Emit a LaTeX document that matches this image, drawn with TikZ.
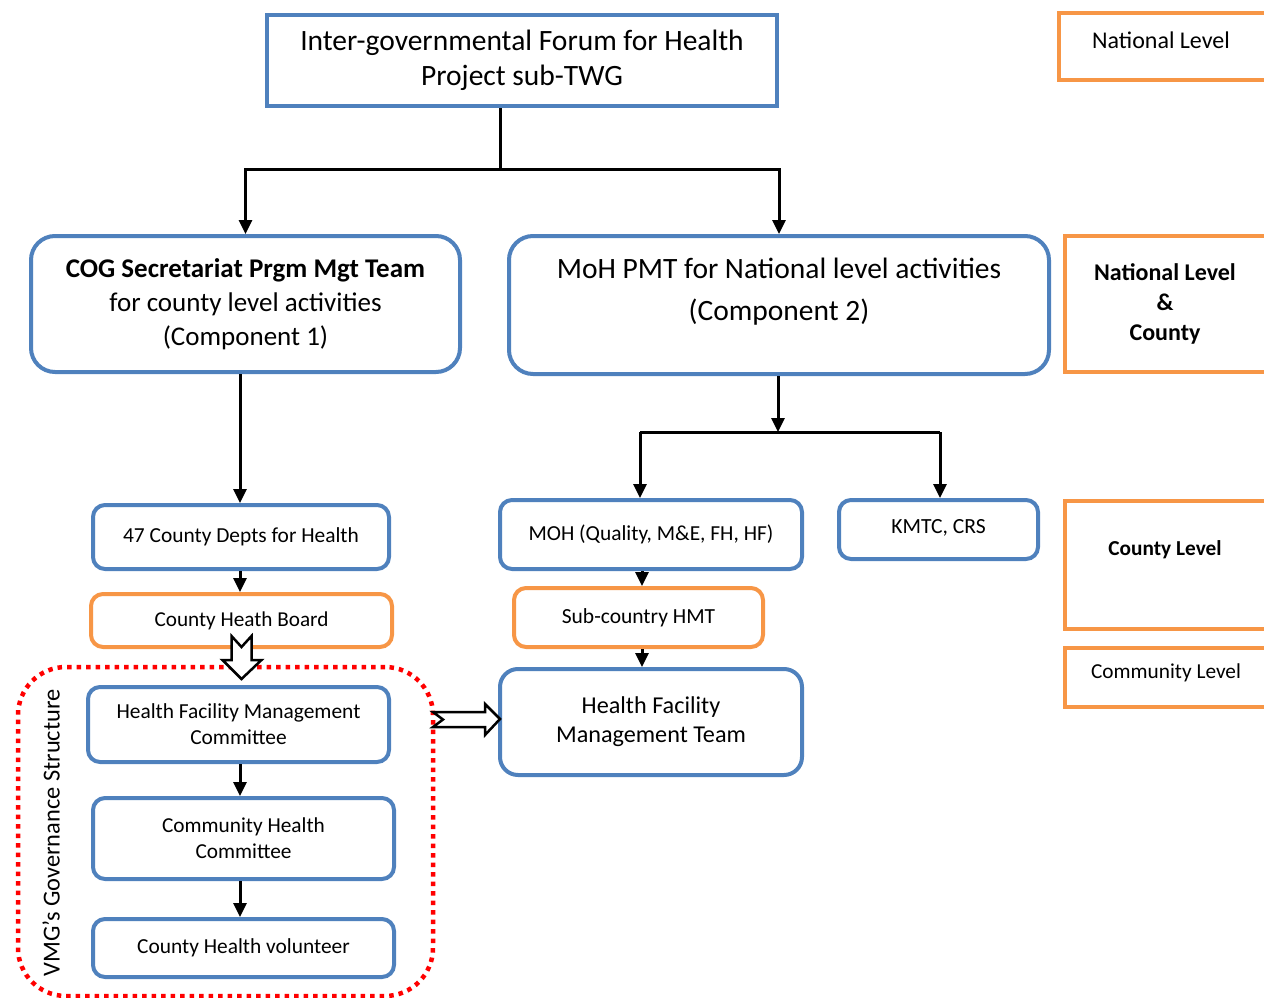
\documentclass[tikz,border=0pt]{standalone}
\usepackage{fontspec}
\setmainfont{Carlito}
\usetikzlibrary{arrows.meta,calc}
\definecolor{bblue}{HTML}{4F81BD}
\definecolor{borange}{HTML}{F79646}
\begin{document}
\begin{tikzpicture}[x=1pt,y=-1pt,
  rbox/.style={draw=bblue, line width=4pt, rounded corners=18pt, align=center, inner sep=0pt, fill=white},
  obox/.style={draw=borange, line width=4pt, rounded corners=12pt, align=center, inner sep=0pt, fill=white},
  sbox/.style={draw=bblue, line width=4pt, align=center, inner sep=0pt},
  lvl/.style={draw=borange, line width=4pt, align=center, inner sep=0pt},
  txt/.style={align=center, inner sep=0pt},
  fs/.style 2 args={font=\fontsize{#1}{#2}\selectfont},
  fsb/.style 2 args={font=\fontsize{#1}{#2}\selectfont\bfseries},
  conn/.style={line width=3pt, black},
  arr/.style={conn, -{Triangle[length=14pt,width=13pt]}},
  hollow/.style={draw=black, line width=2.5pt, fill=white, line join=miter},
]
\useasboundingbox (0,0) rectangle (1264,998);
\clip (0,0) rectangle (1264,998);

% top
\node[sbox, fs={29.5}{35}, minimum width=510pt, minimum height=91pt] (top) at (522,60.5)
  {Inter-governmental Forum for Health\\Project sub-TWG};

% level boxes
\node[lvl, minimum width=214pt, minimum height=67pt] (lvnat) at (1166,46.5) {};
\node[txt, fs={24}{28}] (lvnatt) at (1161,40) {National Level};
\node[lvl, fsb={24}{30}, minimum width=214pt, minimum height=136pt] (lvnc) at (1172,304) {};
\node[txt, fsb={24}{30}] (lvnct) at (1165,304) {National Level\\\&\\County};
\node[lvl, minimum width=214pt, minimum height=128pt] (lvc) at (1172,565) {};
\node[txt, fsb={21.3}{24}] (lvct) at (1165,550) {County Level};
\node[lvl, minimum width=214pt, minimum height=59pt] (lvcom) at (1172,677.5) {};
\node[txt, fs={21.3}{24}] (lvcomt) at (1166,673) {Community Level};

% second row
\node[rbox, rounded corners=24pt, fs={27}{34}, minimum width=429pt, minimum height=136pt] (cog) at (245.5,304)
  {\textbf{COG Secretariat Prgm Mgt Team}\\for county level activities\\(Component 1)};
\node[rbox, rounded corners=24pt, minimum width=540pt, minimum height=138pt] (pmt) at (779,305) {};
\node[txt, fs={29.5}{42}] (pmtt) at (779,292) {MoH PMT for National level activities\\(Component 2)};

% left column
\node[rbox, fs={21.4}{24}, rounded corners=12pt, minimum width=296pt, minimum height=64pt] (c47) at (241,537) {47 County Depts for Health};
\node[obox, fs={21.2}{24}, minimum width=301pt, minimum height=53pt] (chb) at (241.5,620.5) {County Heath Board};

\node[draw=red, line width=4.5pt, dash pattern=on 4.5pt off 5pt, rounded corners=48pt,
      minimum width=415pt, minimum height=329pt, inner sep=0pt] (vmg) at (225.5,831.5) {};
\node[txt, fs={24.4}{28}, rotate=90] (vmgt) at (51,833) {VMG’s Governance Structure};

\node[rbox, fs={21.4}{26}, rounded corners=12pt, minimum width=301pt, minimum height=75pt] (hfmc) at (238.5,724.5) {Health Facility Management\\Committee};
\node[rbox, fs={21.3}{26}, rounded corners=12pt, minimum width=301pt, minimum height=81pt] (chc) at (243.5,838.5) {Community Health\\Committee};
\node[rbox, fs={21.4}{24}, rounded corners=12pt, minimum width=301pt, minimum height=58pt] (chv) at (243.5,948) {County Health volunteer};

% right column
\node[rbox, fs={21.4}{24}, rounded corners=12pt, minimum width=302pt, minimum height=69pt] (mohq) at (651,534.5) {MOH (Quality, M\&E, FH, HF)};
\node[rbox, rounded corners=12pt, minimum width=199pt, minimum height=59pt] (kmtc) at (938.5,529.5) {};
\node[txt, fs={21.6}{24}] (kmtct) at (938.5,528) {KMTC, CRS};
\node[obox, fs={21.5}{24}, minimum width=249pt, minimum height=59pt] (sub) at (638.5,617.5) {Sub-country HMT};
\node[rbox, fs={24.2}{29}, minimum width=302pt, minimum height=106pt] (hfmt) at (651,722) {Health Facility\\Management Team};

% connectors
\coordinate (j1) at (500,169);
\coordinate (j3) at (640,432);
\coordinate (j4) at (940,432);
\coordinate (j2) at (778,432);
\coordinate (xa) at (642,0);
\coordinate (xb) at (240,0);

\draw[conn] (j1 |- top.south) -- (j1);
\draw[arr] (j1) -| (cog.north);
\draw[arr] (j1) -| (pmt.north);
\draw[arr] (xb |- cog.south) -- (xb |- c47.north);
\draw[arr] (xb |- c47.south) -- (xb |- chb.north);
\draw[arr] (j2 |- pmt.south) -- (j2);
\draw[conn] (j3) -- (j4);
\draw[arr] (j3) -- (j3 |- mohq.north);
\draw[arr] (j4) -- (j4 |- kmtc.north);
\draw[arr] (xa |- mohq.south) -- (xa |- sub.north);
\draw[arr] (xa |- sub.south) -- (xa |- hfmt.north);
\draw[arr] (xb |- hfmc.south) -- (xb |- chc.north);
\draw[arr] (xb |- chc.south) -- (xb |- chv.north);

% hollow arrows
\draw[hollow, shift={(chb.south)}] (-10,-13) -- (0,-2) -- (10,-13) -- (10,11) -- (20,11) -- (0,30) -- (-19,11) -- (-10,11) -- cycle;
\draw[hollow, shift={(hfmt.west)}] (-65,-10) -- (-13,-10) -- (-13,-18) -- (2,-3) -- (-13,13) -- (-13,5) -- (-65,5) -- (-55,-2.5) -- cycle;
\end{tikzpicture}
\end{document}
